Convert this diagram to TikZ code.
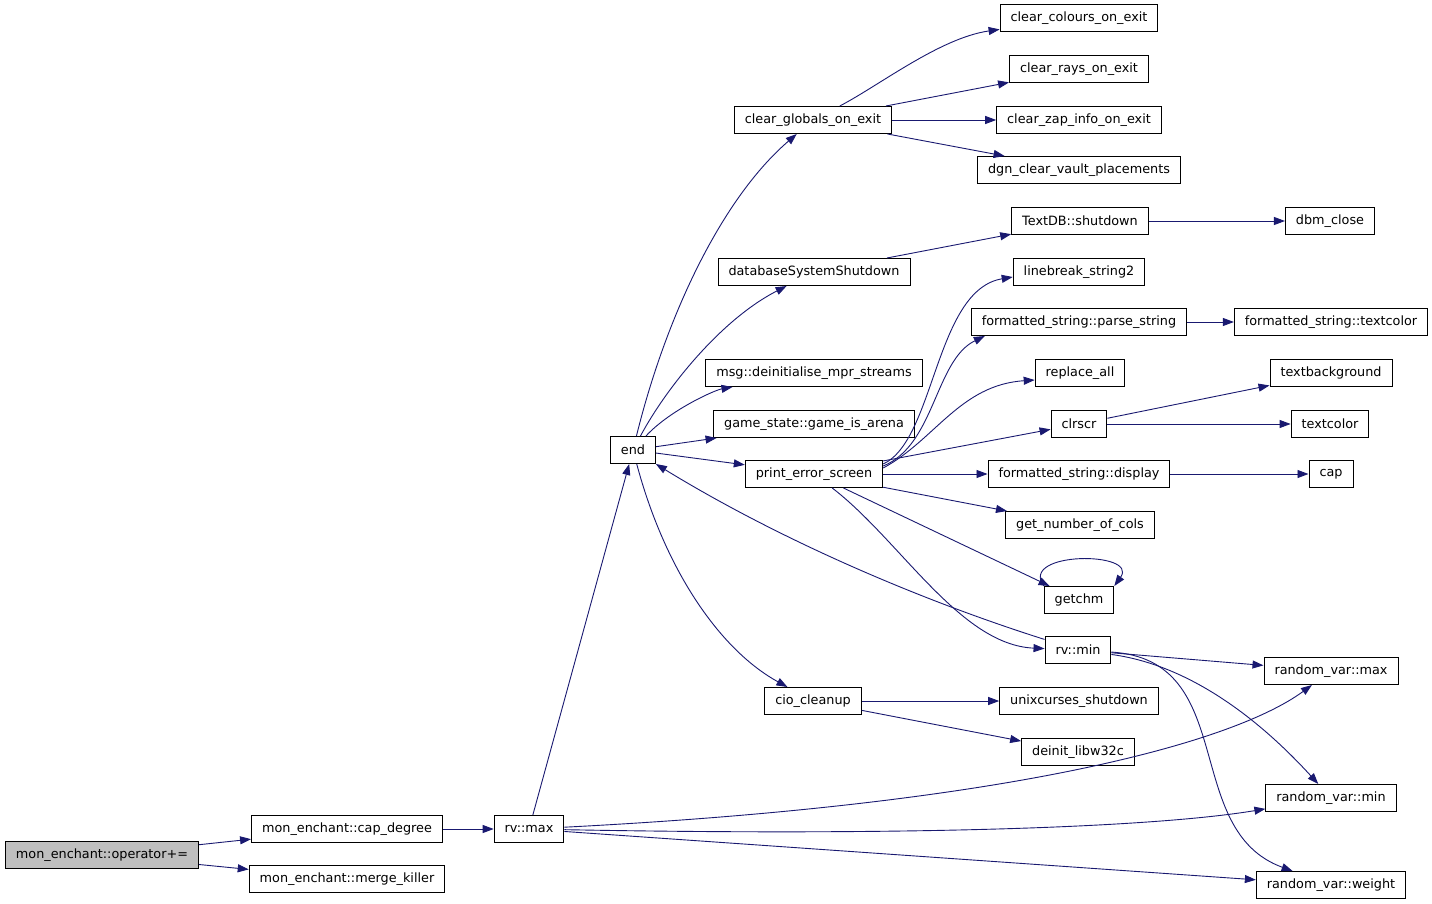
\documentclass[tikz,border=0pt]{standalone}
\usepackage{fontspec}
\setsansfont{DejaVu Sans}
\usepackage{tikz}
\usetikzlibrary{arrows.meta}
\definecolor{midnight}{HTML}{191970}

\begin{document}
\begin{tikzpicture}[%
    x=1pt, y=-1pt,
    font=\sffamily\fontsize{12.8}{15}\selectfont,
    fn/.style={draw=black, fill=white, line width=1pt,
        inner xsep=10.5pt, inner ysep=0pt, minimum height=27pt},
    root/.style={fn, fill=black!25},
    call/.style={draw=midnight, line width=0.9pt,
        -{Triangle[length=11pt,width=8pt]}},
    >=Triangle % Pfeilspitzen
    ]
        \useasboundingbox (0,0) rectangle (1432,904);

        % Knoten
        \node[root] (op)      at (102,855)  {mon\_enchant::operator+=};
        \node[fn] (capdeg)    at (347,829)  {mon\_enchant::cap\_degree};
        \node[fn] (merge)     at (347,879)  {mon\_enchant::merge\_killer};
        \node[fn] (rvmax)     at (529,829)  {rv::max};
        \node[fn] (end)       at (633,450)  {end};
        \node[fn] (globals)   at (813,120)  {clear\_globals\_on\_exit};
        \node[fn] (dbshut)    at (814,272)  {databaseSystemShutdown};
        \node[fn] (msg)       at (814,373)  {msg::deinitialise\_mpr\_streams};
        \node[fn] (arena)     at (814,424)  {game\_state::game\_is\_arena};
        \node[fn] (errscr)    at (814,474)  {print\_error\_screen};
        \node[fn] (cio)       at (813,701)  {cio\_cleanup};
        \node[fn] (colours)   at (1079,18)  {clear\_colours\_on\_exit};
        \node[fn] (rays)      at (1079,69)  {clear\_rays\_on\_exit};
        \node[fn] (zap)       at (1079,120) {clear\_zap\_info\_on\_exit};
        \node[fn] (vault)     at (1079,170) {dgn\_clear\_vault\_placements};
        \node[fn] (textdb)    at (1080,221) {TextDB::shutdown};
        \node[fn] (linebreak) at (1079,272) {linebreak\_string2};
        \node[fn] (parse)     at (1079,322) {formatted\_string::parse\_string};
        \node[fn] (replace)   at (1080,373) {replace\_all};
        \node[fn] (clrscr)    at (1079,424) {clrscr};
        \node[fn] (display)   at (1079,474) {formatted\_string::display};
        \node[fn] (ncols)     at (1080,525) {get\_number\_of\_cols};
        \node[fn] (getchm)    at (1079,600) {getchm};
        \node[fn] (rvmin)     at (1078,650) {rv::min};
        \node[fn] (unixc)     at (1079,701) {unixcurses\_shutdown};
        \node[fn] (w32c)      at (1078,752) {deinit\_libw32c};
        \node[fn] (dbm)       at (1330,221) {dbm\_close};
        \node[fn] (fscolor)   at (1331,322) {formatted\_string::textcolor};
        \node[fn] (textbg)    at (1331,373) {textbackground};
        \node[fn] (textcol)   at (1330,424) {textcolor};
        \node[fn] (cap)       at (1331,474) {cap};
        \node[fn] (varmax)    at (1331,671) {random\_var::max};
        \node[fn] (varmin)    at (1331,798) {random\_var::min};
        \node[fn] (varweight) at (1331,885) {random\_var::weight};

        % Aufrufe, gerade
        \draw[call] (op) -- (capdeg);
        \draw[call] (op) -- (merge);
        \draw[call] (capdeg) -- (rvmax);
        \draw[call] (rvmax) -- (end);
        \draw[call] (rvmax) -- (varweight);
        \draw[call] (end) -- (arena);
        \draw[call] (end) -- (errscr);
        \draw[call] (globals) -- (rays);
        \draw[call] (globals) -- (zap);
        \draw[call] (globals) -- (vault);
        \draw[call] (dbshut) -- (textdb);
        \draw[call] (textdb) -- (dbm);
        \draw[call] (parse) -- (fscolor);
        \draw[call] (errscr) -- (clrscr);
        \draw[call] (errscr) -- (display);
        \draw[call] (errscr) -- (ncols);
        \draw[call] (errscr) -- (getchm);
        \draw[call] (clrscr) -- (textbg);
        \draw[call] (clrscr) -- (textcol);
        \draw[call] (display) -- (cap);
        \draw[call] (cio) -- (unixc);
        \draw[call] (cio) -- (w32c);
        \draw[call] (rvmin) -- (varmax);

        % Aufrufe, gebogen
        \draw[call] (rvmax) .. controls (1000,805) and (1230,745) .. (varmax);
        \draw[call] (rvmax) .. controls (900,836) and (1150,828) .. (varmin);
        \draw[call] (end) .. controls (665,320) and (720,200) .. (globals);
        \draw[call] (end) .. controls (665,390) and (720,320) .. (dbshut);
        \draw[call] (end) .. controls (670,410) and (715,390) .. (msg);
        \draw[call] (end) .. controls (665,570) and (720,650) .. (cio);
        \draw[call] (globals) .. controls (880,85) and (940,38) .. (colours);
        \draw[call] ([yshift=10pt]errscr.east) .. controls (935,440) and (935,290)
                    .. ([yshift=-5pt]linebreak.west);
        \draw[call] ([yshift=8pt]errscr.east) .. controls (935,445) and (935,360)
                    .. ([xshift=14pt]parse.south west);
        \draw[call] ([yshift=6pt]errscr.east) .. controls (935,440) and (960,385)
                    .. ([yshift=-7pt]replace.west);
        \draw[call] (errscr) .. controls (900,540) and (960,645) .. (rvmin);
        \draw[call] (rvmin) .. controls (920,600) and (780,540) .. (end);
        \draw[call] (rvmin) .. controls (1190,665) and (1260,720) .. (varmin);
        \draw[call] (rvmin) .. controls (1240,660) and (1180,830) .. (varweight);
        \draw[call] (getchm.north west) .. controls +(-25,-35) and +(25,-35)
                    .. (getchm.north east);
\end{tikzpicture}
\end{document}
